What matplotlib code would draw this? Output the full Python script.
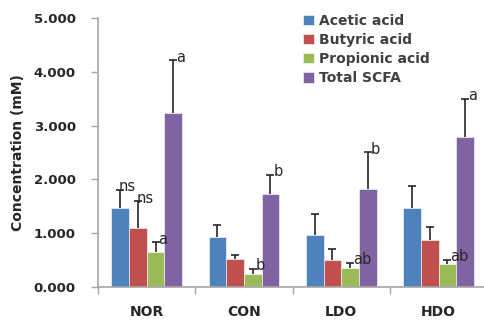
import matplotlib.pyplot as plt
import numpy as np

groups = ["NOR", "CON", "LDO", "HDO"]
series = ["Acetic acid", "Butyric acid", "Propionic acid", "Total SCFA"]
colors = ["#4F81BD", "#C0504D", "#9BBB59", "#8064A2"]

acetic = [1.47, 0.93, 0.96, 1.47]
butyric = [1.10, 0.53, 0.50, 0.87]
propionic = [0.65, 0.24, 0.35, 0.42]
total = [3.23, 1.72, 1.82, 2.79]

acetic_err = [0.33, 0.22, 0.39, 0.41]
butyric_err = [0.49, 0.06, 0.20, 0.24]
propionic_err = [0.18, 0.09, 0.10, 0.08]
total_err = [0.98, 0.36, 0.68, 0.70]

acetic_lbl = ["ns", "", "", ""]
butyric_lbl = ["ns", "", "", ""]
propionic_lbl = ["a", "b", "ab", "ab"]
total_lbl = ["a", "b", "b", "a"]

values = [acetic, butyric, propionic, total]
errors = [acetic_err, butyric_err, propionic_err, total_err]
labels = [acetic_lbl, butyric_lbl, propionic_lbl, total_lbl]

fig = plt.figure(figsize=(4.84, 3.2), dpi=100)
ax = fig.add_axes([0.2025, 0.103, 0.804, 0.841])

x = np.arange(len(groups))
w = 0.182
axis_gray = "#A6A6A6"
text_gray = "#262626"

for i in range(len(series)):
    pos = x + (i - 1.5) * w
    bars = ax.bar(pos, values[i], w, color=colors[i], label=series[i],
                  edgecolor="white", linewidth=0.4,
                  yerr=[np.zeros(len(groups)), errors[i]], capsize=3,
                  error_kw=dict(ecolor="#262626", elinewidth=1.2, capthick=1.2))
    # only keep the upper cap
    caps = bars.errorbar.lines[1]
    if len(caps) > 0:
        caps[0].set_visible(False)
    for j in range(len(groups)):
        if labels[i][j]:
            dx = -1 if labels[i][j] == "ns" else 2
            ax.annotate(labels[i][j], (pos[j], values[i][j] + errors[i][j]),
                        xytext=(dx, -3), textcoords="offset points",
                        ha="left", va="bottom", fontsize=10.5, color=text_gray)

ax.set_xlim(-0.5, 3.5)
ax.set_ylim(0, 5)
ax.set_yticks(np.arange(0, 5.01, 1))
ax.set_yticklabels([f"{v:.3f}" for v in np.arange(0, 5.01, 1)],
                   fontsize=9.5, fontweight="bold", color=text_gray)
ax.set_xticks(x)
ax.set_xticklabels(groups, fontsize=10, fontweight="bold", color=text_gray)
ax.set_xticks(np.arange(-0.5, 3.6, 1), minor=True)
ax.tick_params(axis="x", which="major", length=0, pad=13)
ax.tick_params(axis="x", which="minor", length=5, color=axis_gray, width=1)
ax.tick_params(axis="y", length=5, color=axis_gray, width=1, pad=11)

ax.set_ylabel("Concentration (mM)", fontsize=10, fontweight="bold", color=text_gray,
              labelpad=6)

for side in ["top", "right"]:
    ax.spines[side].set_visible(False)
for side in ["left", "bottom"]:
    ax.spines[side].set_color(axis_gray)
    ax.spines[side].set_linewidth(1.2)

leg = ax.legend(loc="upper left", bbox_to_anchor=(0.615, 0.975), bbox_transform=fig.transFigure,
                frameon=False, handlelength=0.75, handleheight=0.75, handletextpad=0.4,
                labelspacing=0.38, borderaxespad=0.0, prop=dict(size=10, weight="bold"))
for t in leg.get_texts():
    t.set_color("#404040")

fig.savefig("out.png", dpi=100)
